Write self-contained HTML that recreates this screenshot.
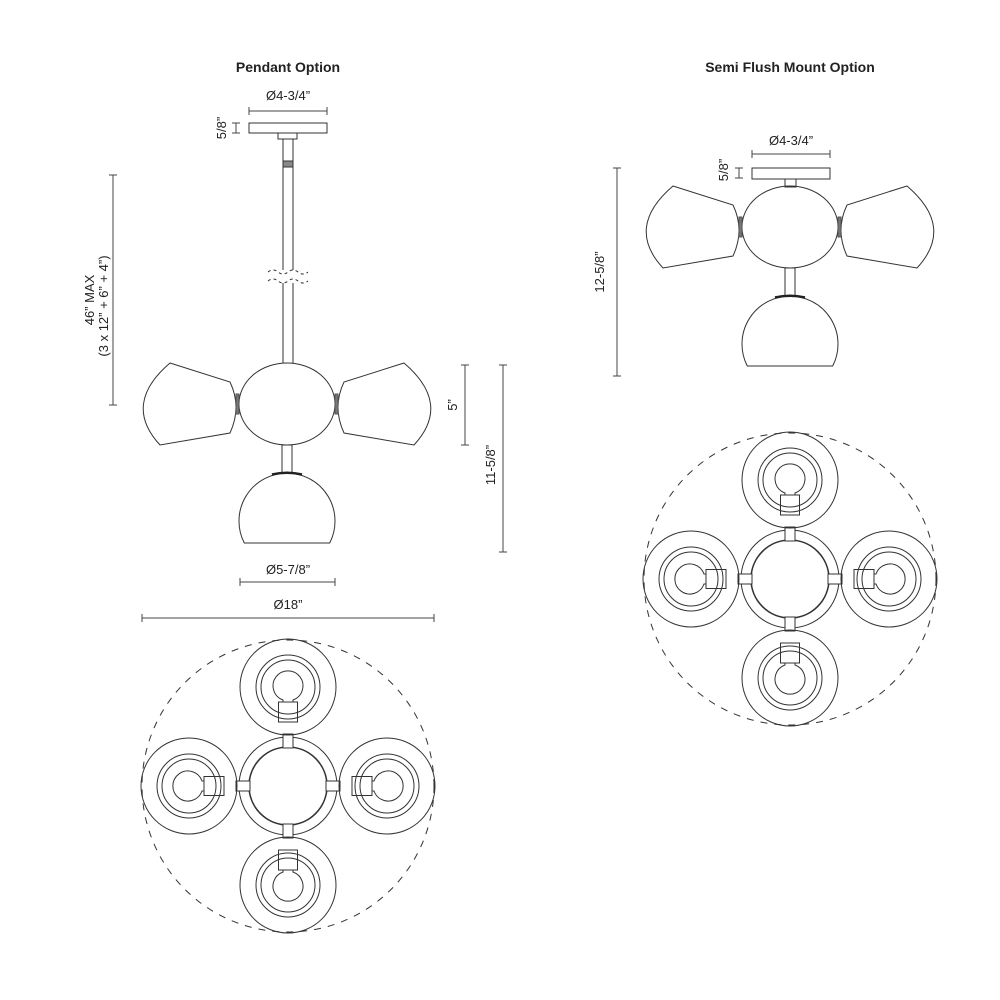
<!DOCTYPE html>
<html><head><meta charset="utf-8"><style>
html,body{margin:0;padding:0;background:#fff;}
svg{display:block;font-family:"Liberation Sans",sans-serif;}
</style></head><body>
<svg width="1000" height="1000" viewBox="0 0 1000 1000" xmlns="http://www.w3.org/2000/svg">
<defs>
  <g id="side" fill="none" stroke="#333" stroke-width="1">
    <ellipse cx="0" cy="0" rx="48" ry="41"/>
    <path d="M-117,-41 L-57,-22 Q-45,3 -57,29 L-127,41 Q-165,0 -117,-41 Z"/>
    <path d="M117,-41 L57,-22 Q45,3 57,29 L127,41 Q165,0 117,-41 Z"/>
    <rect x="-51" y="-10" width="3" height="20" fill="#777" stroke="#555"/>
    <rect x="48" y="-10" width="3" height="20" fill="#777" stroke="#555"/>
    <rect x="-5" y="41" width="10" height="28"/>
    <path d="M-42.7,139 A48,48 0 1 1 42.7,139 Z"/>
    <path d="M-15,70.5 Q0,67 15,70.5" stroke-width="2.5" stroke="#222"/>
  </g>
  <g id="shadeTop" fill="none" stroke="#333" stroke-width="1">
    <circle cx="0" cy="0" r="48"/>
    <circle cx="0" cy="0" r="32"/>
    <circle cx="0" cy="0" r="27"/>
    <path d="M-5,13 A15,15 0 1 1 5,13 L5,15 L-5,15 Z"/>
    <rect x="-9.5" y="15" width="19" height="20"/>
  </g>
  <g id="top" fill="none" stroke="#333" stroke-width="1">
    <circle cx="0" cy="0" r="146" stroke-dasharray="7 7"/>
    <circle cx="0" cy="0" r="49"/>
    <circle cx="0" cy="0" r="39" stroke-width="1.6"/>
    <rect x="-5" y="-52" width="10" height="14" fill="#fff"/>
    <rect x="-5" y="38" width="10" height="14" fill="#fff"/>
    <rect x="-52" y="-5" width="14" height="10" fill="#fff"/>
    <rect x="38" y="-5" width="14" height="10" fill="#fff"/>
    <use href="#shadeTop" transform="translate(0,-99)"/>
    <use href="#shadeTop" transform="translate(0,99) rotate(180)"/>
    <use href="#shadeTop" transform="translate(-99,0) rotate(-90)"/>
    <use href="#shadeTop" transform="translate(99,0) rotate(90)"/>
  </g>
</defs>

<g font-size="13" fill="#222">
<text x="288" y="72" text-anchor="middle" font-weight="bold" font-size="14">Pendant Option</text>
<text x="790" y="72" text-anchor="middle" font-weight="bold" font-size="14">Semi Flush Mount Option</text>
</g>

<!-- Pendant side -->
<g fill="none" stroke="#333" stroke-width="1">
  <rect x="249" y="123" width="78" height="10"/>
  <rect x="278" y="133" width="19" height="6"/>
  <line x1="283" y1="139" x2="283" y2="270"/>
  <line x1="293" y1="139" x2="293" y2="270"/>
  <rect x="283" y="161" width="10" height="6" fill="#888"/>
  <line x1="283" y1="283" x2="283" y2="363"/>
  <line x1="293" y1="283" x2="293" y2="363"/>
  <path d="M268,272 q5,-4 10,0 t10,0 t10,0 t10,0" stroke-dasharray="3 3"/>
  <path d="M268,281 q5,-4 10,0 t10,0 t10,0 t10,0" stroke-dasharray="3 3"/>
</g>
<use href="#side" transform="translate(287,404)"/>

<!-- Pendant dims -->
<g stroke="#444" stroke-width="1" fill="none">
  <line x1="249" y1="111" x2="327" y2="111"/><line x1="249" y1="107" x2="249" y2="115"/><line x1="327" y1="107" x2="327" y2="115"/>
  <line x1="236" y1="123" x2="236" y2="133"/><line x1="232" y1="123" x2="240" y2="123"/><line x1="232" y1="133" x2="240" y2="133"/>
  <line x1="240" y1="582" x2="335" y2="582"/><line x1="240" y1="578" x2="240" y2="586"/><line x1="335" y1="578" x2="335" y2="586"/>
  <line x1="142" y1="618" x2="434" y2="618"/><line x1="142" y1="614" x2="142" y2="622"/><line x1="434" y1="614" x2="434" y2="622"/>
  <line x1="113" y1="175" x2="113" y2="405"/><line x1="109" y1="175" x2="117" y2="175"/><line x1="109" y1="405" x2="117" y2="405"/>
  <line x1="465" y1="365" x2="465" y2="445"/><line x1="461" y1="365" x2="469" y2="365"/><line x1="461" y1="445" x2="469" y2="445"/>
  <line x1="503" y1="365" x2="503" y2="552"/><line x1="499" y1="365" x2="507" y2="365"/><line x1="499" y1="552" x2="507" y2="552"/>
</g>
<g font-size="13" fill="#222" text-anchor="middle">
  <text x="288" y="100">Ø4-3/4”</text>
  <text x="288" y="574">Ø5-7/8”</text>
  <text x="288" y="609">Ø18”</text>
  <text transform="translate(226,128) rotate(-90)">5/8”</text>
  <text transform="translate(94,300) rotate(-90)">46” MAX</text>
  <text transform="translate(108,306) rotate(-90)">(3 x 12” + 6” + 4”)</text>
  <text transform="translate(457,405) rotate(-90)">5”</text>
  <text transform="translate(495,465) rotate(-90)">11-5/8”</text>
</g>

<use href="#top" transform="translate(288,786)"/>

<!-- Semi flush side -->
<g fill="none" stroke="#333" stroke-width="1">
  <rect x="752" y="168" width="78" height="11"/>
  <rect x="785" y="179" width="11" height="8"/>
</g>
<use href="#side" transform="translate(790,227)"/>
<g stroke="#444" stroke-width="1" fill="none">
  <line x1="752" y1="154" x2="830" y2="154"/><line x1="752" y1="150" x2="752" y2="158"/><line x1="830" y1="150" x2="830" y2="158"/>
  <line x1="739" y1="168" x2="739" y2="178"/><line x1="735" y1="168" x2="743" y2="168"/><line x1="735" y1="178" x2="743" y2="178"/>
  <line x1="617" y1="168" x2="617" y2="376"/><line x1="613" y1="168" x2="621" y2="168"/><line x1="613" y1="376" x2="621" y2="376"/>
</g>
<g font-size="13" fill="#222" text-anchor="middle">
  <text x="791" y="145">Ø4-3/4”</text>
  <text transform="translate(728,170) rotate(-90)">5/8”</text>
  <text transform="translate(604,272) rotate(-90)">12-5/8”</text>
</g>

<use href="#top" transform="translate(790,579)"/>
</svg>
</body></html>
